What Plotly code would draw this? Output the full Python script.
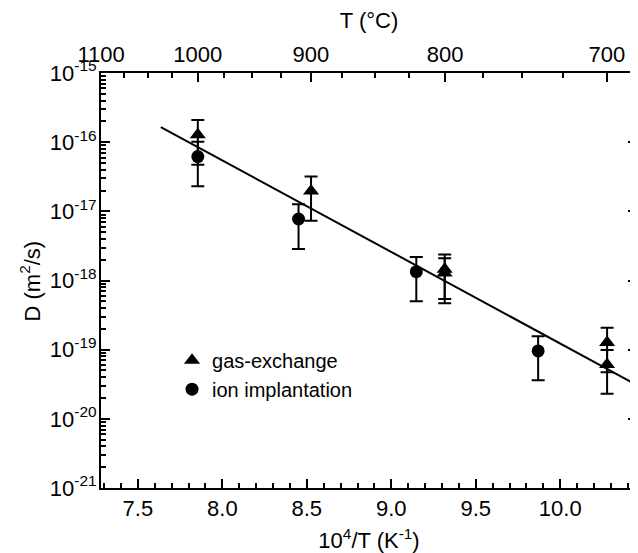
import plotly.graph_objects as go

# ---- data ----
gas_x = [7.855, 8.525, 9.316, 9.316, 10.277, 10.277]          # 10^4/T (K^-1)
gas_D = [1.28e-16, 1.96e-17, 1.46e-18, 1.28e-18, 1.27e-19, 6.1e-20]
gas_err = [8.1e-17, 1.23e-17, 9.2e-19, 8.1e-19, 8.0e-20, 3.8e-20]

ion_x = [7.855, 8.451, 9.148, 9.869]
ion_D = [6.2e-17, 7.75e-18, 1.34e-18, 9.6e-20]
ion_err = [3.9e-17, 4.9e-18, 8.4e-19, 6.0e-20]

fit_x = [7.636, 10.419]
fit_D = [1.656e-16, 3.41e-20]

x_range = [7.282, 10.454]
y_range_exp = [-21, -15]

bottom_ticks = [7.5, 8.0, 8.5, 9.0, 9.5, 10.0]
bottom_labels = ["7.5", "8.0", "8.5", "9.0", "9.5", "10.0"]
top_T_labels = [1100, 1000, 900, 800, 700]
top_T_minor = [1075, 1050, 1025, 975, 950, 925, 875, 850, 825, 775, 750, 725]
y_decades = [-21, -20, -19, -18, -17, -16, -15]

FONT = "Liberation Sans, Arial, Helvetica, sans-serif"

top_vals = [1e4 / (t + 273.15) for t in top_T_labels]
top_minor_vals = [1e4 / (t + 273.15) for t in top_T_minor]
y_vals = [10.0 ** e for e in y_decades]
y_text = ["10<sup>%d</sup>" % e for e in y_decades]
y_minor = [k * 10.0 ** e for e in y_decades[:-1] for k in range(2, 10)]
x_minor = [round(7.3 + 0.1 * i, 1) for i in range(32)]

fig = go.Figure()

fig.add_trace(go.Scatter(
    x=fit_x, y=fit_D, mode="lines", line=dict(color="black", width=2),
    showlegend=False, hoverinfo="skip"))

fig.add_trace(go.Scatter(
    x=gas_x, y=gas_D, mode="markers", name="gas-exchange",
    marker=dict(symbol="triangle-up", size=14, color="black"),
    error_y=dict(type="data", array=gas_err, color="black", thickness=2, width=6.5)))

fig.add_trace(go.Scatter(
    x=ion_x, y=ion_D, mode="markers", name="ion implantation",
    marker=dict(symbol="circle", size=13, color="black"),
    error_y=dict(type="data", array=ion_err, color="black", thickness=2, width=6.5)))

# invisible trace to activate top axis and right axis
fig.add_trace(go.Scatter(x=x_range, y=[None, None], xaxis="x2", yaxis="y2",
                         showlegend=False, hoverinfo="skip"))

# The page body has an 8px default margin, so the figure is offset by (8, 8).
fig.update_layout(
    width=630, height=545,
    margin=dict(l=93, r=1, t=65, b=60),
    paper_bgcolor="white", plot_bgcolor="white",
    font=dict(family=FONT, size=22, color="black"),
    showlegend=True,
    legend=dict(x=0.1325, y=0.355, xanchor="left", yanchor="top",
                font=dict(size=20, family=FONT), bgcolor="rgba(0,0,0,0)",
                borderwidth=0),
    xaxis=dict(
        range=x_range, showgrid=False, zeroline=False,
        showline=True, linecolor="black", linewidth=2,
        ticks="inside", ticklen=9, tickwidth=2, tickcolor="black",
        tickmode="array", tickvals=bottom_ticks, ticktext=bottom_labels,
        minor=dict(ticks="inside", ticklen=5, tickwidth=2, tickcolor="black",
                   tickmode="array", tickvals=x_minor),
        title=dict(text="10<sup>4</sup>/T (K<sup>-1</sup>)", font=dict(size=22)),
        tickfont=dict(size=22),
    ),
    xaxis2=dict(
        range=x_range, overlaying="x", side="top", anchor="y",
        showgrid=False, zeroline=False,
        showline=True, linecolor="black", linewidth=2,
        ticks="inside", ticklen=9, tickwidth=2, tickcolor="black",
        tickmode="array", tickvals=top_vals, ticktext=[str(t) for t in top_T_labels],
        minor=dict(ticks="inside", ticklen=5, tickwidth=2, tickcolor="black",
                   tickmode="array", tickvals=top_minor_vals),
        title=dict(text="T (°C)", font=dict(size=22)),
        tickfont=dict(size=22),
    ),
    yaxis=dict(
        type="log", range=y_range_exp, showgrid=False, zeroline=False,
        showline=True, linecolor="black", linewidth=2,
        ticks="inside", ticklen=9, tickwidth=2, tickcolor="black",
        tickmode="array", tickvals=y_vals, ticktext=y_text,
        ticklabelstandoff=-2,
        minor=dict(ticks="inside", ticklen=5, tickwidth=2, tickcolor="black",
                   tickmode="array", tickvals=y_minor),
        tickfont=dict(size=22),
    ),
    yaxis2=dict(
        type="log", range=y_range_exp, overlaying="y", side="right", anchor="x",
        showgrid=False, zeroline=False, showline=False,
        ticks="inside", ticklen=9, tickwidth=2, tickcolor="black",
        tickmode="array", tickvals=y_vals, showticklabels=False,
        minor=dict(ticks="inside", ticklen=5, tickwidth=2, tickcolor="black",
                   tickmode="array", tickvals=y_minor),
    ),
    annotations=[dict(text="D (m<sup>2</sup>/s)", textangle=-90, showarrow=False,
                      xref="paper", yref="paper", x=-0.1325, y=0.5,
                      xanchor="center", yanchor="middle",
                      font=dict(size=22, family=FONT, color="black"))],
    shapes=[dict(type="line", xref="paper", yref="paper", x0=1, x1=1, y0=0, y1=1,
                 line=dict(color="black", width=2, dash="dot"))],
)

fig.write_html("out.html")
